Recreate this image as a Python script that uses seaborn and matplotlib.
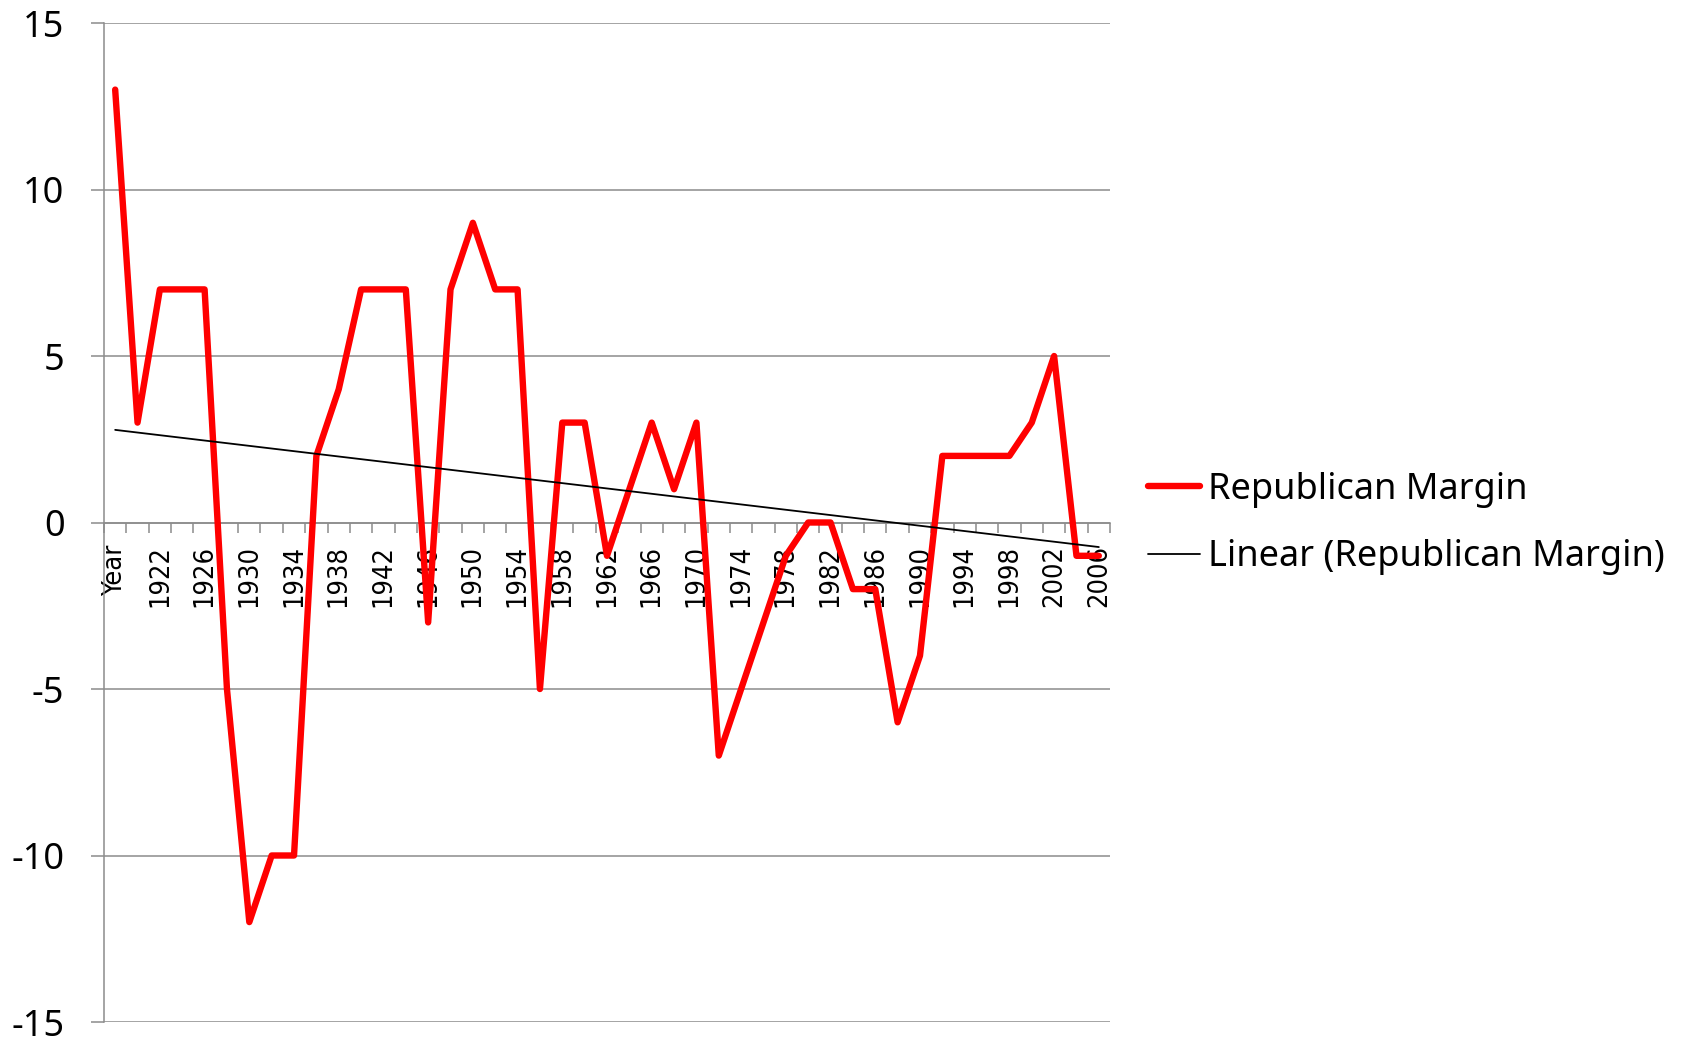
import matplotlib
matplotlib.use('Agg')
import matplotlib.pyplot as plt
import seaborn as sns
import numpy as np
import pandas as pd

categories = ['Year', '1920', '1922', '1924', '1926', '1928', '1930', '1932', '1934',
              '1936', '1938', '1940', '1942', '1944', '1946', '1948', '1950', '1952',
              '1954', '1956', '1958', '1960', '1962', '1964', '1966', '1968', '1970',
              '1972', '1974', '1976', '1978', '1980', '1982', '1984', '1986', '1988',
              '1990', '1992', '1994', '1996', '1998', '2000', '2002', '2004', '2006']
margin = [13, 3, 7, 7, 7, -5, -12, -10, -10, 2, 4, 7, 7, 7, -3, 7, 9, 7, 7, -5,
          3, 3, -1, 1, 3, 1, 3, -7, -5, -3, -1, 0, 0, -2, -2, -6, -4, 2, 2, 2,
          2, 3, 5, -1, -1]
y_ticks = [-15, -10, -5, 0, 5, 10, 15]

sns.set_theme(style='white')
plt.rcParams['font.family'] = ['Noto Sans', 'DejaVu Sans']

GRAY = '#8c8c8c'
df = pd.DataFrame({'pos': np.arange(len(categories)), 'margin': margin})

fig = plt.figure(figsize=(16.9, 10.44), dpi=100)
ax = fig.add_axes([104 / 1690, 1 - 1022 / 1044, (1110 - 104) / 1690, (1022 - 23) / 1044])

sns.lineplot(data=df, x='pos', y='margin', ax=ax, color='#ff0000', linewidth=4.6,
             label='Republican Margin', zorder=3)
sns.regplot(data=df, x='pos', y='margin', ax=ax, scatter=False, ci=None, truncate=True,
            label='Linear (Republican Margin)',
            line_kws={'color': 'black', 'linewidth': 1.3, 'zorder': 4})

ax.set_xlim(-0.5, len(categories) - 0.5)
ax.set_ylim(-15, 15)
ax.set_xlabel('')
ax.set_ylabel('')

# y axis
ax.set_yticks(y_ticks)
ax.set_yticklabels([str(v) for v in y_ticks], fontsize=26, family=['Noto Sans', 'DejaVu Sans'],
                   color='black')
ax.yaxis.grid(True, color=GRAY, linewidth=1.1)
ax.tick_params(axis='y', which='major', left=True, direction='out', length=9.5,
               width=1.1, color=GRAY, pad=19)

# x axis at zero
ax.spines['bottom'].set_position(('data', 0))
for s in ['top', 'right']:
    ax.spines[s].set_visible(False)
for s in ['left', 'bottom']:
    ax.spines[s].set_color(GRAY)
    ax.spines[s].set_linewidth(1.1)

bounds = np.arange(len(categories) + 1) - 0.5
ax.set_xticks(bounds)
ax.set_xticklabels([''] * len(bounds))
lab_pos = np.arange(0, len(categories), 2)
ax.set_xticks(lab_pos, minor=True)
ax.set_xticklabels([categories[i] for i in lab_pos], minor=True, rotation=90,
                   fontsize=19.5, family='DejaVu Sans', fontstretch='condensed', color='black')
ax.tick_params(axis='x', which='major', bottom=True, direction='out', length=7.2,
               width=1.1, color=GRAY)
ax.tick_params(axis='x', which='minor', bottom=True, length=0, pad=16)

handles, labels = ax.get_legend_handles_labels()
if ax.get_legend() is not None:
    ax.get_legend().remove()
leg = fig.legend(handles, labels, loc='center left', bbox_to_anchor=(1148 / 1690, 1 - 523.5 / 1044),
                 frameon=False, fontsize=26, handlelength=1.45, handletextpad=0.2,
                 labelspacing=0.88, borderpad=0, borderaxespad=0)
for t in leg.get_texts():
    t.set_color('black')

fig.savefig('out.png', dpi=100, facecolor='white')
